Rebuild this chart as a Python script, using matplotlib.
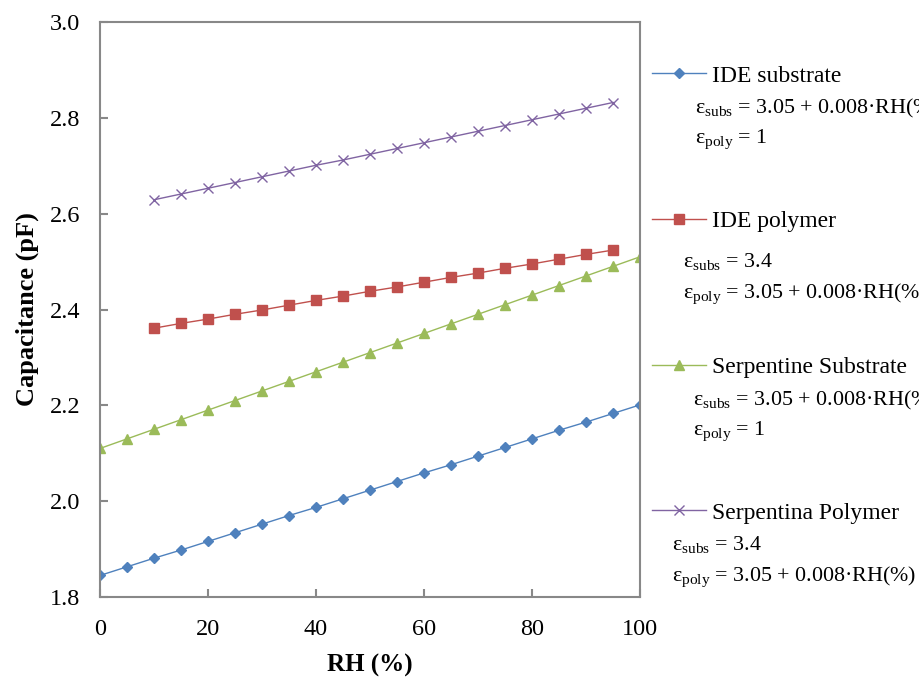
import numpy as np
import matplotlib
matplotlib.use("Agg")
import matplotlib.pyplot as plt

plt.rcParams['font.family'] = ['Liberation Serif', 'DejaVu Serif']
plt.rcParams['mathtext.fontset'] = 'custom'
plt.rcParams['mathtext.rm'] = 'Liberation Serif'

rh_full = [0, 5, 10, 15, 20, 25, 30, 35, 40, 45, 50, 55, 60, 65, 70, 75, 80, 85, 90, 95, 100]
rh_part = [10, 15, 20, 25, 30, 35, 40, 45, 50, 55, 60, 65, 70, 75, 80, 85, 90, 95]

ide_substrate = [1.845, 1.863, 1.881, 1.898, 1.916, 1.934, 1.952, 1.970, 1.987, 2.005, 2.023,
                 2.041, 2.059, 2.076, 2.094, 2.112, 2.130, 2.148, 2.165, 2.183, 2.201]
ide_polymer = [2.361, 2.371, 2.380, 2.390, 2.399, 2.409, 2.419, 2.428, 2.438, 2.447,
               2.457, 2.467, 2.476, 2.486, 2.495, 2.505, 2.515, 2.524]
serp_substrate = [2.11, 2.13, 2.15, 2.17, 2.19, 2.21, 2.23, 2.25, 2.27, 2.29, 2.31,
                  2.33, 2.35, 2.37, 2.39, 2.41, 2.43, 2.45, 2.47, 2.49, 2.51]
serp_polymer = [2.629, 2.641, 2.653, 2.665, 2.677, 2.689, 2.701, 2.712, 2.724, 2.736,
                2.748, 2.760, 2.772, 2.784, 2.796, 2.808, 2.820, 2.832]

labels = ["IDE substrate", "IDE polymer", "Serpentine Substrate", "Serpentina Polymer"]
notes = [
    ["ε$_{\\mathrm{subs}}$ = 3.05 + 0.008·RH(%)", "ε$_{\\mathrm{poly}}$ = 1"],
    ["ε$_{\\mathrm{subs}}$ = 3.4", "ε$_{\\mathrm{poly}}$ = 3.05 + 0.008·RH(%)"],
    ["ε$_{\\mathrm{subs}}$ = 3.05 + 0.008·RH(%)", "ε$_{\\mathrm{poly}}$ = 1"],
    ["ε$_{\\mathrm{subs}}$ = 3.4", "ε$_{\\mathrm{poly}}$ = 3.05 + 0.008·RH(%)"],
]

fig = plt.figure(figsize=(9.2, 6.8), dpi=100)
ax = fig.add_axes([100/920, 1 - 597/680, 540/920, 575/680])

ax.plot(rh_full, ide_substrate, color='#4F81BD', marker='D', markersize=5, lw=1, label=labels[0])
ax.plot(rh_part, ide_polymer, color='#C0504D', marker='s', markersize=7, lw=1, label=labels[1])
ax.plot(rh_full, serp_substrate, color='#9BBB59', marker='^', markersize=7, lw=1, label=labels[2])
ax.plot(rh_part, serp_polymer, color='#8064A2', marker='x', markersize=7, mew=1, lw=1, label=labels[3])

ax.set_xlim(0, 100)
ax.set_ylim(1.8, 3.0)
ax.set_xticks(np.arange(0, 101, 20))
ax.set_yticks(np.arange(1.8, 3.01, 0.2))
ax.set_yticklabels(["%.1f" % v for v in np.arange(1.8, 3.01, 0.2)])
ax.tick_params(direction='in', length=6, width=1.5, color='#888888', labelsize=17.5)
ax.tick_params(axis='y', pad=14)
ax.tick_params(axis='x', pad=16)
for s in ax.spines.values():
    s.set_color('#888888')
    s.set_linewidth(1.5)

ax.set_xlabel("RH (%)", fontsize=18, fontweight='bold', labelpad=10)
ax.set_ylabel("Capacitance (pF)", fontsize=19, fontweight='bold', labelpad=8)

ax.legend(loc='upper left', bbox_to_anchor=(652/920, 1 - 65/680), bbox_transform=fig.transFigure,
          frameon=False, fontsize=17, labelspacing=5.26, handlelength=2.3, handletextpad=0.25,
          borderpad=0, borderaxespad=0, numpoints=1)

note_x = [695, 683, 693, 672]
note_y = [108, 262, 400, 545]
for i in range(4):
    fig.text(note_x[i]/920, 1 - note_y[i]/680, notes[i][0], fontsize=15.8, va='center')
    fig.text(note_x[i]/920, 1 - (note_y[i] + 32)/680, notes[i][1], fontsize=15.8, va='center')

fig.savefig("out.png", dpi=100)
